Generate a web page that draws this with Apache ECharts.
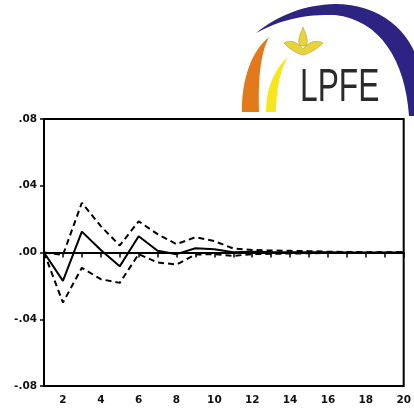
<!DOCTYPE html>
<html>
<head>
<meta charset="utf-8">
<script src="https://cdn.jsdelivr.net/npm/echarts@6/dist/echarts.min.js"></script>
<style>
html,body{margin:0;padding:0;background:#fff;}
#chart{width:414px;height:411px;}
</style>
</head>
<body>
<div id="chart"></div>
<script>
// Periods 1..20
const periods = [1,2,3,4,5,6,7,8,9,10,11,12,13,14,15,16,17,18,19,20];
// Impulse response (solid) and +/- 2 S.E. bands (dashed)
const response = [0, -0.017, 0.0125, 0.0015, -0.0083, 0.0097, 0.001, -0.001, 0.0025, 0.002, 0.0002, 0.0005, 0.0003, 0.0002, 0.0001, 0.0001, 0, 0, 0, 0];
const upperBand = [0, -0.0015, 0.0298, 0.0158, 0.0042, 0.0187, 0.011, 0.005, 0.0092, 0.0068, 0.0024, 0.0015, 0.0012, 0.001, 0.0008, 0.0005, 0.0003, 0.0002, 0.0001, 0.0001];
const lowerBand = [0, -0.030, -0.0092, -0.016, -0.0182, -0.001, -0.006, -0.0072, -0.0012, -0.001, -0.002, -0.001, -0.0008, -0.0006, -0.0005, -0.0003, -0.0002, -0.0001, -0.0001, 0];
const yTicks = [-0.08, -0.04, 0, 0.04, 0.08];

const pair = arr => periods.map((p, i) => [p, arr[i]]);

function fmtY(v) {
  if (Math.abs(v) < 1e-9) return '.00';
  const s = Math.abs(v).toFixed(2).replace(/^0/, '');
  return (v < 0 ? '-' : '') + s;
}

// Logo decoration helper: turn a simple "M x y C ... L ..." path into polygon points
function pathPoints(d) {
  const tk = d.trim().split(/\s+/);
  const pts = [];
  let i = 0, cx = 0, cy = 0;
  while (i < tk.length) {
    const c = tk[i++];
    if (c === 'M' || c === 'L') {
      cx = +tk[i++]; cy = +tk[i++]; pts.push([cx, cy]);
    } else if (c === 'C') {
      const x1 = +tk[i++], y1 = +tk[i++], x2 = +tk[i++], y2 = +tk[i++], x3 = +tk[i++], y3 = +tk[i++];
      for (let s = 1; s <= 16; s++) {
        const t = s / 16, u = 1 - t;
        pts.push([u*u*u*cx + 3*u*u*t*x1 + 3*u*t*t*x2 + t*t*t*x3,
                  u*u*u*cy + 3*u*u*t*y1 + 3*u*t*t*y2 + t*t*t*y3]);
      }
      cx = x3; cy = y3;
    } else if (c === 'Z') { /* close */ }
  }
  return pts;
}
function logoShape(d, fill, stroke) {
  return {type: 'polygon', z: 10, shape: {points: pathPoints(d)},
    style: stroke ? {fill: fill, stroke: stroke, lineWidth: 0.6} : {fill: fill}};
}

const chart = echarts.init(document.getElementById('chart'), null, {renderer: 'canvas'});
const labelFont = {color: '#111', fontFamily: 'DejaVu Sans', fontWeight: 'bold', fontSize: 10.5};

chart.setOption({
  backgroundColor: '#fff',
  animation: false,
  grid: {left: 44, right: 7, top: 119, bottom: 25, show: true, borderColor: '#000', borderWidth: 2, backgroundColor: 'transparent'},
  xAxis: {
    type: 'value', min: 1, max: 20, interval: 1,
    axisLine: {show: true, lineStyle: {color: '#000', width: 2}},
    axisTick: {show: true, inside: false, length: 5, lineStyle: {color: '#000', width: 1.5}},
    splitLine: {show: false},
    axisLabel: Object.assign({margin: 9, formatter: v => (v % 2 === 0 ? String(v) : '')}, labelFont)
  },
  yAxis: {
    type: 'value', min: yTicks[0], max: yTicks[yTicks.length - 1], interval: 0.04,
    axisLine: {show: true, lineStyle: {color: '#000', width: 2}},
    axisTick: {show: true, inside: false, length: 4, lineStyle: {color: '#000', width: 1.5}},
    splitLine: {show: false},
    axisLabel: Object.assign({margin: 7, formatter: fmtY}, labelFont)
  },
  series: [
    {
      type: 'line', data: pair(response), symbol: 'none', z: 5,
      lineStyle: {color: '#000', width: 2},
      markLine: {silent: true, symbol: 'none', label: {show: false},
        lineStyle: {color: '#000', width: 2, type: 'solid'}, data: [{yAxis: 0}]}
    },
    {type: 'line', data: pair(upperBand), symbol: 'none', z: 4,
      lineStyle: {color: '#000', width: 2, type: [6, 4]}},
    {type: 'line', data: pair(lowerBand), symbol: 'none', z: 4,
      lineStyle: {color: '#000', width: 2, type: [6, 4]}}
  ],
  graphic: [
    logoShape('M 256 33 C 280 14 305 5 335 4 C 380 4 410 30 420 67 L 420 116 L 409 116 C 405 60 380 20 335 15 C 305 14 280 20 256 33 Z', '#2c2382'),
    logoShape('M 269 37 C 252 50 241 80 242 112 L 259 112 C 258 80 260 55 269 37 Z', '#e27a1c'),
    logoShape('M 288 57 C 275 68 266 88 266 112 L 276 112 C 276 90 280 70 288 57 Z', '#f6e61a'),
    logoShape('M 303 27 C 306 35 309 40 306 46 L 300 46 C 297 40 300 35 303 27 Z', '#e8d33a', '#b49a30'),
    logoShape('M 284 43 C 292 39 298 43 303 49 C 308 43 314 39 323 43 C 316 50 308 54 303 55 C 298 54 290 50 284 43 Z', '#e8d33a', '#b49a30'),
    {type: 'text', z: 11, x: 300, y: 88, scaleX: 0.69,
      style: {text: 'LPFE', fontFamily: 'Liberation Sans', fontSize: 46, fontWeight: 'normal', fill: '#2a2a2a', verticalAlign: 'middle', align: 'left'}}
  ]
});
</script>
</body>
</html>
